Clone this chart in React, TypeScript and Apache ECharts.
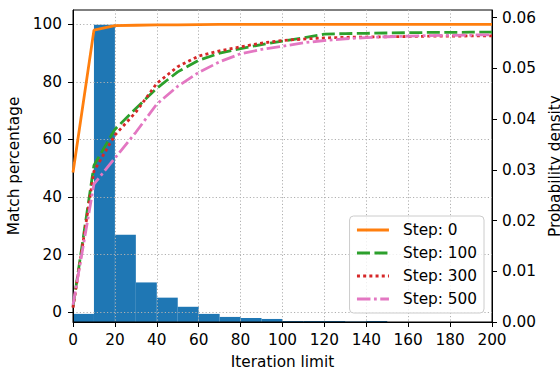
import React, { useEffect, useRef } from "react";
import * as echarts from "echarts";

const iterations = [0, 10, 20, 30, 40, 50, 60, 70, 80, 90, 100, 110, 120, 130, 140, 150, 160, 170, 180, 190, 200];
const step0 = [48.5, 98.0, 99.6, 99.7, 99.8, 99.8, 99.9, 100, 100, 100, 100, 100, 100, 100, 100, 100, 100, 100, 100, 100, 100];
const step100 = [1.8, 51.0, 63.5, 70.8, 77.8, 83.5, 87.5, 90.0, 91.6, 93.0, 94.2, 95.3, 96.6, 96.8, 96.9, 97.0, 97.1, 97.2, 97.2, 97.3, 97.3];
const step300 = [1.5, 49.0, 61.5, 69.5, 79.5, 85.3, 89.0, 90.8, 92.2, 93.5, 94.4, 94.9, 95.3, 95.5, 95.6, 95.7, 95.8, 95.9, 95.9, 96.0, 96.0];
const step500 = [2.5, 44.5, 53.5, 62.5, 72.3, 78.5, 83.3, 87.0, 89.8, 91.3, 92.4, 93.6, 94.4, 95.0, 95.4, 95.7, 95.9, 96.1, 96.2, 96.3, 96.4];

const binStarts = [0, 10, 20, 30, 40, 50, 60, 70, 80, 90, 100, 110, 120, 130, 140];
const binWidth = 10;
const densities = [0.0016, 0.0586, 0.0172, 0.0078, 0.0048, 0.003, 0.0016, 0.001, 0.0008, 0.0006, 0.0002, 0.0002, 0.0002, 0.0001, 0.0002];

const xTicks = [0, 20, 40, 60, 80, 100, 120, 140, 160, 180, 200];
const leftTicks = [0, 20, 40, 60, 80, 100];
const rightTicks = [0, 0.01, 0.02, 0.03, 0.04, 0.05, 0.06];

const FONT = "DejaVu Sans";
const FS = 15.3;

export default function App() {
  const ref = useRef<HTMLDivElement>(null);
  useEffect(() => {
    if (!ref.current) return;
    const chart = echarts.init(ref.current, undefined, { renderer: "svg" });
    const pair = (ys: number[]) => iterations.map((x, i) => [x, ys[i]]);
    const hist = binStarts.map((s, i) => [s, s + binWidth, densities[i]]);
    const tickStyle = { show: true, length: 5, inside: false, lineStyle: { color: "#000", width: 1 } };
    const labelStyle = { color: "#000", fontFamily: FONT, fontSize: FS };
    const nameStyle = { color: "#000", fontFamily: FONT, fontSize: FS };
    const gridLine = { show: true, lineStyle: { color: "#b0b0b0", width: 1, type: [1.2, 2.2] as any } };
    chart.setOption({
      animation: false,
      backgroundColor: "#fff",
      grid: {
        left: 73, right: 68, top: 10, bottom: 47,
        containLabel: false,
        outerBoundsMode: "none",
        show: true, borderColor: "#000", borderWidth: 1, backgroundColor: "transparent",
      },
      legend: {
        orient: "vertical",
        right: 76,
        bottom: 56,
        itemWidth: 32,
        itemHeight: 15,
        itemGap: 8,
        padding: [6.5, 7, 6.5, 6],
        backgroundColor: "rgba(255,255,255,0.8)",
        borderColor: "#cccccc",
        borderWidth: 1,
        borderRadius: 4,
        itemStyle: { color: "transparent", borderWidth: 0, opacity: 0 },
        lineStyle: { width: 2.8 },
        textStyle: { color: "#000", fontFamily: FONT, fontSize: FS, padding: [0, 0, 0, 9] },
        data: ["Step: 0", "Step: 100", "Step: 300", "Step: 500"],
      },
      xAxis: {
        type: "value",
        min: 0,
        max: 200,
        interval: 20,
        name: "Iteration limit",
        nameLocation: "middle",
        nameGap: 32,
        nameTextStyle: nameStyle,
        axisLine: { show: true, onZero: false, lineStyle: { color: "#000", width: 1 } },
        axisTick: tickStyle,
        axisLabel: { ...labelStyle, margin: 10, customValues: xTicks },
        splitLine: gridLine,
      },
      yAxis: [
        {
          type: "value",
          position: "left",
          min: -3.45,
          max: 105,
          name: "Match percentage",
          nameLocation: "middle",
          nameRotate: 90,
          nameGap: 45,
          nameTextStyle: nameStyle,
          axisLine: { show: true, onZero: false, lineStyle: { color: "#000", width: 1 } },
          axisTick: { ...tickStyle, customValues: leftTicks },
          axisLabel: { ...labelStyle, margin: 11, customValues: leftTicks, formatter: (v: number) => String(Math.round(v)) },
          splitLine: gridLine,
        },
        {
          type: "value",
          position: "right",
          min: 0,
          max: 0.0615,
          interval: 0.01,
          name: "Probability density",
          nameLocation: "middle",
          nameRotate: 90,
          nameGap: 48,
          nameTextStyle: { ...nameStyle, lineHeight: FS },
          axisLine: { show: true, onZero: false, lineStyle: { color: "#000", width: 1 } },
          axisTick: { ...tickStyle, customValues: rightTicks },
          axisLabel: { ...labelStyle, margin: 10, customValues: rightTicks, formatter: (v: number) => v.toFixed(2) },
          splitLine: { show: false },
        },
      ],
      series: [
        {
          type: "custom",
          name: "hist",
          yAxisIndex: 1,
          z: -1,
          data: hist,
          encode: { x: [0, 1], y: 2 },
          renderItem: (params: any, api: any) => {
            const x0 = api.value(0);
            const x1 = api.value(1);
            const h = api.value(2);
            const p0 = api.coord([x0, h]);
            const p1 = api.coord([x1, 0]);
            return {
              type: "rect",
              shape: { x: p0[0], y: p0[1], width: p1[0] - p0[0], height: p1[1] - p0[1] },
              style: { fill: "#1f77b4" },
            };
          },
        },
        {
          type: "line",
          name: "Step: 0",
          data: pair(step0),
          showSymbol: false,
          symbol: "none",
          lineStyle: { color: "#ff7f0e", width: 2.8, type: "solid" },
          itemStyle: { color: "#ff7f0e" },
          z: 3,
        },
        {
          type: "line",
          name: "Step: 100",
          data: pair(step100),
          showSymbol: false,
          symbol: "none",
          lineStyle: { color: "#2ca02c", width: 2.8, type: [13, 4.5] },
          itemStyle: { color: "#2ca02c" },
          z: 4,
        },
        {
          type: "line",
          name: "Step: 300",
          data: pair(step300),
          showSymbol: false,
          symbol: "none",
          lineStyle: { color: "#d62728", width: 2.8, type: [3, 3.2] },
          itemStyle: { color: "#d62728" },
          z: 5,
        },
        {
          type: "line",
          name: "Step: 500",
          data: pair(step500),
          showSymbol: false,
          symbol: "none",
          lineStyle: { color: "#e377c2", width: 2.8, type: [13.5, 3.5, 2.8, 3.5] },
          itemStyle: { color: "#e377c2" },
          z: 6,
        },
      ],
    });
    return () => chart.dispose();
  }, []);
  return (
    <div
      ref={ref}
      style={{ position: "fixed", left: 0, top: 0, width: 560, height: 369, background: "#fff" }}
    />
  );
}
